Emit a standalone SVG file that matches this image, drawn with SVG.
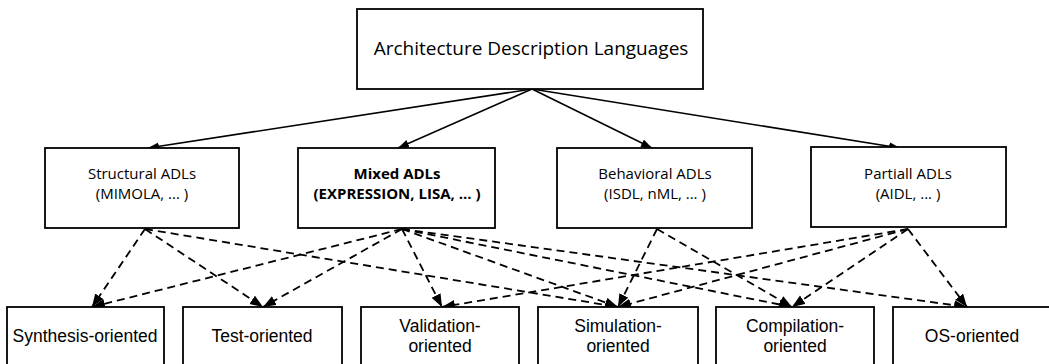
<svg xmlns="http://www.w3.org/2000/svg" width="1049" height="364" viewBox="0 0 1049 364">
<style>
.box{fill:#fff;stroke:#000;stroke-width:1.8}
.t1{font-family:"Open Sans","Noto Sans",sans-serif;font-size:19px;fill:#000;text-anchor:middle}
.t2{font-family:"Open Sans","Noto Sans",sans-serif;font-size:15px;fill:#000;text-anchor:middle}
.t2b{font-family:"Open Sans","Noto Sans",sans-serif;font-size:15px;font-weight:bold;fill:#000;text-anchor:middle}
.t3{font-family:"Liberation Sans",Arial,sans-serif;font-size:17.5px;fill:#000;text-anchor:middle}
.solid{stroke:#000;stroke-width:1.6;fill:none;marker-end:url(#ah)}
.dash{stroke:#000;stroke-width:1.8;fill:none;stroke-dasharray:8 5;marker-end:url(#ah2)}
</style>
<defs>
<marker id="ah" markerUnits="userSpaceOnUse" markerWidth="12" markerHeight="10" refX="11" refY="4" orient="auto">
<path d="M0,0 L11,4 L0,8 Z" fill="#000"/>
</marker>
<marker id="ah2" markerUnits="userSpaceOnUse" markerWidth="14" markerHeight="12" refX="13" refY="5" orient="auto">
<path d="M0,0 L13,5 L0,10 Z" fill="#000"/>
</marker>
</defs>
<rect x="0" y="0" width="1049" height="364" fill="#fff"/>
<g id="connectors">
<line class="solid" x1="532" y1="89" x2="148" y2="148"/>
<line class="solid" x1="532" y1="89" x2="398" y2="148"/>
<line class="solid" x1="532" y1="89" x2="652" y2="148"/>
<line class="solid" x1="532" y1="89" x2="900" y2="148"/>
<line class="dash" x1="145" y1="229" x2="92" y2="307"/>
<line class="dash" x1="145" y1="229" x2="263" y2="307"/>
<line class="dash" x1="145" y1="229" x2="618" y2="307"/>
<line class="dash" x1="402" y1="229" x2="92" y2="307"/>
<line class="dash" x1="402" y1="229" x2="263" y2="307"/>
<line class="dash" x1="402" y1="229" x2="442" y2="307"/>
<line class="dash" x1="402" y1="229" x2="618" y2="307"/>
<line class="dash" x1="402" y1="229" x2="792" y2="307"/>
<line class="dash" x1="402" y1="229" x2="967" y2="307"/>
<line class="dash" x1="657" y1="229" x2="618" y2="307"/>
<line class="dash" x1="657" y1="229" x2="792" y2="307"/>
<line class="dash" x1="908" y1="229" x2="442" y2="307"/>
<line class="dash" x1="908" y1="229" x2="618" y2="307"/>
<line class="dash" x1="908" y1="229" x2="792" y2="307"/>
<line class="dash" x1="908" y1="229" x2="967" y2="307"/>
</g>
<g id="adl">
<rect class="box" x="357" y="9" width="346" height="80"/>
<text class="t1" x="531" y="55">Architecture Description Languages</text>
</g>
<g id="structural">
<rect class="box" x="45" y="148" width="194" height="80"/>
<text class="t2" x="142" y="179">Structural ADLs</text>
<text class="t2" x="142" y="199">(MIMOLA, ... )</text>
</g>
<g id="mixed">
<rect class="box" x="298" y="148" width="197" height="80"/>
<text class="t2b" x="397" y="179">Mixed ADLs</text>
<text class="t2b" x="397" y="199">(EXPRESSION, LISA, ... )</text>
</g>
<g id="behavioral">
<rect class="box" x="557" y="148" width="195" height="80"/>
<text class="t2" x="655" y="179">Behavioral ADLs</text>
<text class="t2" x="655" y="199">(ISDL, nML, ... )</text>
</g>
<g id="partial">
<rect class="box" x="811" y="147" width="195" height="80"/>
<text class="t2" x="908" y="179">Partiall ADLs</text>
<text class="t2" x="908" y="199">(AIDL, ... )</text>
</g>
<g id="synthesis">
<rect class="box" x="7" y="307" width="157" height="70"/>
<text class="t3" x="85" y="342">Synthesis-oriented</text>
</g>
<g id="test">
<rect class="box" x="183" y="307" width="159" height="70"/>
<text class="t3" x="262" y="342">Test-oriented</text>
</g>
<g id="validation">
<rect class="box" x="361" y="307" width="158" height="70"/>
<text class="t3" x="440" y="332">Validation-</text>
<text class="t3" x="440" y="352">oriented</text>
</g>
<g id="simulation">
<rect class="box" x="538" y="307" width="160" height="70"/>
<text class="t3" x="618" y="332">Simulation-</text>
<text class="t3" x="618" y="352">oriented</text>
</g>
<g id="compilation">
<rect class="box" x="716" y="307" width="158" height="70"/>
<text class="t3" x="795" y="332">Compilation-</text>
<text class="t3" x="795" y="352">oriented</text>
</g>
<g id="os">
<rect class="box" x="893" y="307" width="160" height="70"/>
<text class="t3" x="972" y="342">OS-oriented</text>
</g>
</svg>
